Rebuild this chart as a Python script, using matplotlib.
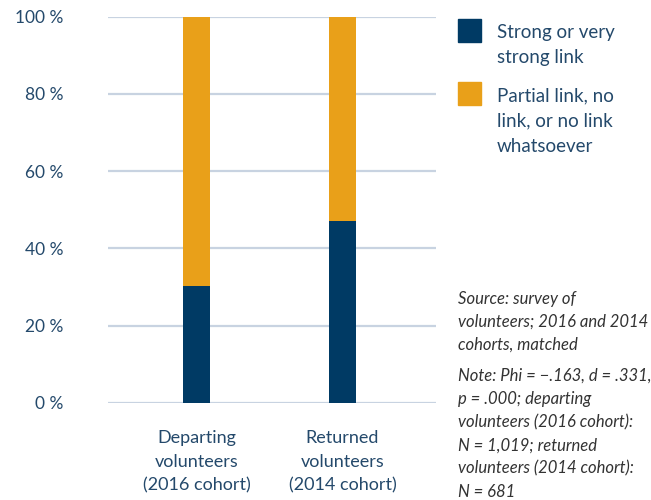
import matplotlib.pyplot as plt
from matplotlib.patches import Rectangle

groups = ['Departing\nvolunteers\n(2016 cohort)', 'Returned\nvolunteers\n(2014 cohort)']
strong = [30.3, 47.1]
other = [100 - s for s in strong]
series_names = ['Strong or very\nstrong link', 'Partial link, no\nlink, or no link\nwhatsoever']
yticks = [0, 20, 40, 60, 80, 100]

navy = '#003a64'
orange = '#e9a019'
txt = '#24496b'
grid = '#c8d3e1'

plt.rcParams['font.family'] = ['Lato', 'DejaVu Sans']

fig = plt.figure(figsize=(6.51, 5), dpi=100)
ax = fig.add_axes([108 / 651, 1 - 402.7 / 500, 328 / 651, 386 / 500])

x = [0, 1]
ax.bar(x, strong, width=0.185, color=navy, zorder=3)
ax.bar(x, other, bottom=strong, width=0.185, color=orange, zorder=3)

ax.set_xlim(-0.608, 1.641)
ax.set_ylim(0, 100)
ax.set_yticks(yticks)
ax.set_yticklabels([f'{t} %' for t in yticks])
for t in yticks:
    ax.axhline(t, color=grid, lw=1.6, zorder=1)

ax.set_xticks(x)
ax.set_xticklabels(groups, linespacing=1.56)
ax.tick_params(axis='both', length=0, colors=txt)
ax.tick_params(axis='y', pad=32, labelsize=12.5)
ax.tick_params(axis='x', pad=20, labelsize=13)
for s in ax.spines.values():
    s.set_visible(False)

# legend, drawn by hand so the swatches sit at the top of each label
for i, (name, col) in enumerate(zip(series_names, [navy, orange])):
    y0 = 1 - (19 + 63 * i) / 500
    fig.patches.append(Rectangle((458 / 651, y0 - 23 / 500), 23 / 651, 23 / 500,
                                 transform=fig.transFigure, color=col))
    fig.text(497 / 651, y0 - 5 / 500, name, ha='left', va='top', color=txt,
             fontsize=13.5, linespacing=1.6)

fig.text(458 / 651, 1 - 291 / 500,
         'Source: survey of\nvolunteers; 2016 and 2014\ncohorts, matched',
         ha='left', va='top', color='#333333', fontsize=12, style='italic',
         linespacing=1.53)
fig.text(458 / 651, 1 - 368 / 500,
         'Note: Phi = \u2212.163, d = .331,\np = .000; departing\nvolunteers (2016 cohort):\n'
         'N = 1,019; returned\nvolunteers (2014 cohort):\nN = 681',
         ha='left', va='top', color='#333333', fontsize=12, style='italic',
         linespacing=1.55)

fig.savefig('out.png', dpi=100)
